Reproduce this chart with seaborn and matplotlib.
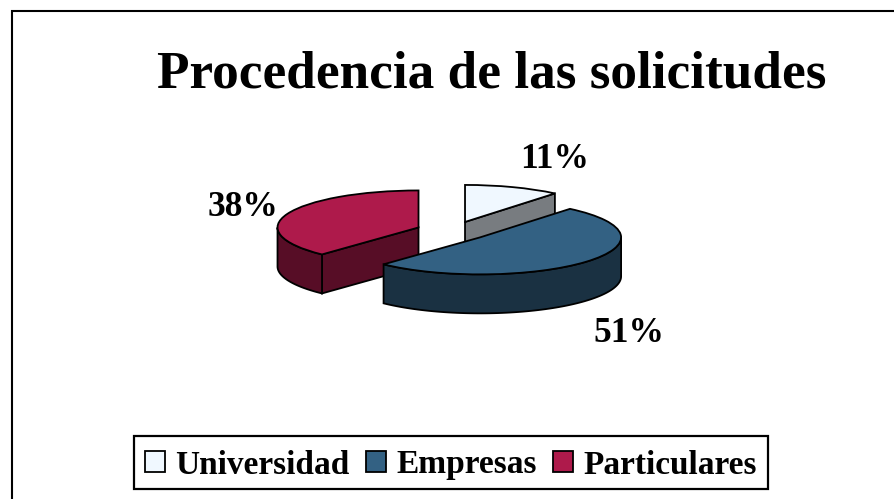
import numpy as np
import matplotlib
matplotlib.use("Agg")
import matplotlib.pyplot as plt
from matplotlib.patches import Polygon, Rectangle
import seaborn as sns

#Chart values
categories = ["Universidad", "Empresas", "Particulares"]
percentages = [11, 51, 38]
title_text = "Procedencia de las solicitudes"
colors = ["#F0F8FF", "#336183", "#AE1A4B"]

sns.set_theme(style="white")
plt.rcParams["font.family"] = ["Liberation Serif", "DejaVu Serif"]
plt.rcParams["text.color"] = "black"

W, H = 894, 499
#Pie centre and radii on the canvas, in pixels
CX, CY = 452.6, 231
RX, RY = 141, 37
DEPTH = 39 / RY
EDGE_LW = 1.3

fig = plt.figure(figsize=(W / 100, H / 100), dpi=100)
ax = fig.add_axes([0, 0, 1, 1])

wedges, _ = ax.pie(percentages, colors=colors, explode=[0.26] * 3, startangle=90,
                   counterclock=False, radius=1,
                   wedgeprops={"edgecolor": "black", "linewidth": EDGE_LW})

#Squash the pie, one data unit is RX wide and RY tall
ax.set_aspect("auto")
ax.set_xlim((0 - CX) / RX, (W - CX) / RX)
ax.set_ylim((CY - H) / RY, (CY - 0) / RY)
ax.axis("off")


def point(center, angle):
    a = np.radians(angle)
    return center[0] + np.cos(a), center[1] + np.sin(a)


#Side walls, darker version of each slice, hung under the pie wedges
draw_order = [0, 2, 1]
for rank, i in enumerate(draw_order):
    w = wedges[i]
    t1, t2 = w.theta1, w.theta2
    c = w.center
    side = tuple(0.5 * np.array(matplotlib.colors.to_rgb(w.get_facecolor())))
    z = 2 + rank * 2
    w.set_zorder(z + 1)

    #radial cut faces that look at the viewer
    for angle, visible in ((t1, np.cos(np.radians(t1)) > 1e-6),
                           (t2, np.cos(np.radians(t2)) < -1e-6)):
        if visible:
            x, y = point(c, angle)
            ax.add_patch(Polygon([c, (x, y), (x, y - DEPTH), (c[0], c[1] - DEPTH)],
                                 facecolor=side, edgecolor="black", lw=EDGE_LW, zorder=z))

    #outer rim, only the front half of the ellipse shows
    for shift in (-360, 0):
        a1 = max(t1 + shift, -180)
        a2 = min(t2 + shift, 0)
        if a2 > a1:
            th = np.radians(np.linspace(a1, a2, 80))
            xs = c[0] + np.cos(th)
            ys = c[1] + np.sin(th)
            pts = np.r_[np.c_[xs, ys], np.c_[xs[::-1], ys[::-1] - DEPTH]]
            ax.add_patch(Polygon(pts, facecolor=side, edgecolor="black", lw=EDGE_LW, zorder=z))

#Outer frame runs off the right and bottom of the canvas
fig.add_artist(Rectangle((11.5 / W, -0.1), 1.1, 1.1 - 11.5 / H, transform=fig.transFigure,
                         fill=False, edgecolor="black", lw=1.5))

fig.text(492 / W, 1 - 75 / H, title_text, ha="center", va="center",
         fontsize=38.3, fontweight="bold", color="black")

#Percent labels
label_px = [(555, 159), (629, 333), (243, 207)]
for v, (px, py) in zip(percentages, label_px):
    fig.text(px / W, 1 - py / H, f"{v}%", ha="center", va="center",
             fontsize=25.5, fontweight="bold", color="black")

leg = fig.legend(wedges, categories, loc="center", bbox_to_anchor=(451 / W, 1 - 462 / H),
                 ncol=3, frameon=True, fancybox=False, edgecolor="black", framealpha=1,
                 prop={"size": 24, "weight": "bold"}, handlelength=0.6, handleheight=0.55,
                 handletextpad=0.3, columnspacing=0.5, borderpad=0.33, borderaxespad=0)
leg.get_frame().set_linewidth(1.6)

#Nudge legend rows down so text and swatches sit on one baseline
for t in leg.get_texts():
    t.set_y(-3)
for h in leg.legend_handles:
    h.set_y(h.get_y() - 2)

fig.savefig("out.png", dpi=100)
